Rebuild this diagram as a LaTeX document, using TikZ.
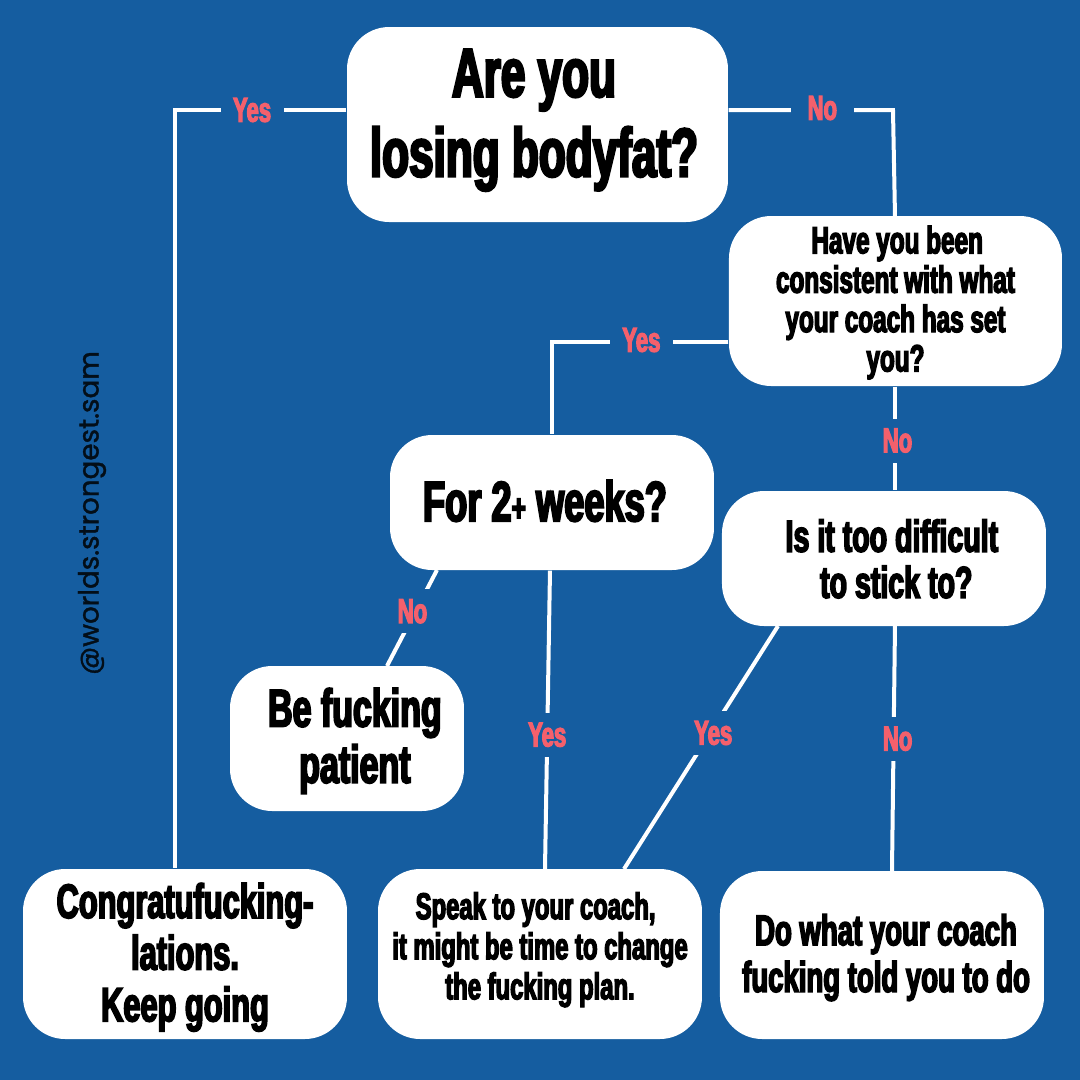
\documentclass[tikz,border=0pt]{standalone}
\usepackage{fontspec}
\usepackage{xcolor}
\usetikzlibrary{calc}
\setmainfont[FakeStretch=0.64,FakeBold=3.5]{Liberation Sans Bold}
\newfontfamily\handlefont[FakeBold=1.3]{Poppins}
\definecolor{bgblue}{HTML}{155DA0}
\definecolor{labelpink}{HTML}{F4606C}
\newcommand{\fs}[2]{\fontsize{#1}{#2}\selectfont}
\newcommand{\lift}[2]{\raisebox{#1}[\height][\depth]{\begin{tabular}{@{}c@{}}#2\end{tabular}}}
\begin{document}
\begin{tikzpicture}[x=0.1mm,y=-0.1mm]
    \tikzset{
        box/.style={fill=white,rounded corners=12pt,inner sep=0pt,align=center,text=black},
        lab/.style={fill=bgblue,text=labelpink,inner sep=0pt,minimum width=6.3mm,minimum height=4.4mm,font=\fs{9.8}{10}},
        link/.style={draw=white,line width=0.4mm}
    }
    \fill [bgblue] (0,0) rectangle (1080,1080);
    \node [box,minimum width=38.1mm,minimum height=19.5mm,font=\fs{19.6}{22.7}] (fat) at (537.5,124.5) {\lift{1.1pt}{\hspace*{-2pt}Are you\\\hspace*{-2pt}losing bodyfat?}};
    \node [box,minimum width=33.3mm,minimum height=17mm,font=\fs{10.8}{11.2}] (consistent) at (895.5,301) {\lift{-1pt}{\hspace*{1pt}Have you been\\consistent with what\\your coach has set\\you?}};
    \node [box,minimum width=32.4mm,minimum height=13.5mm,font=\fs{16.1}{18}] (weeks) at (552,502.5) {\lift{-1.7pt}{\hspace*{-4pt}For 2{\fs{11}{11}+} weeks?}};
    \node [box,minimum width=32.4mm,minimum height=13.5mm,font=\fs{12.7}{13.1}] (difficult) at (884,558.5) {\lift{-2pt}{\hspace*{4.5pt}Is it too difficult\\\hspace*{7pt}to stick to?}};
    \node [box,minimum width=23.4mm,minimum height=14.5mm,font=\fs{15.1}{16}] (patient) at (347,738.5) {\lift{-1.4pt}{\hspace*{4.5pt}Be fucking\\\hspace*{4.5pt}patient}};
    \node [box,minimum width=32.4mm,minimum height=17mm,font=\fs{13.7}{14.7}] (congrat) at (185,954) {\lift{-1.5pt}{Congratufucking-\\lations.\\Keep going}};
    \node [box,minimum width=32.4mm,minimum height=17mm,font=\fs{10.6}{11.4}] (speak) at (540,954) {\lift{0.8pt}{\hspace*{-2.5pt}Speak to your coach,\\it might be time to change\\the fucking plan.}};
    \node [box,minimum width=32.4mm,minimum height=16.8mm,font=\fs{12.25}{13.3}] (dowhat) at (882,955) {\lift{-1.2pt}{\hspace*{2.3pt}Do what your coach\\\hspace*{2.3pt}fucking told you to do}};
    \node [rotate=90,text=black!85!bgblue,font=\handlefont\fs{7.9}{10}] (handle) at (92,513) {@worlds.strongest.sam};
    % Turning points
    \coordinate (yesturn) at (175,110);
    \coordinate (noturn) at (893,110);
    \coordinate (setturn) at (552,342);
    \draw [link] (fat.west |- yesturn) -- node[lab,pos=0.55] {Yes} (yesturn) -- (yesturn |- congrat.north);
    \draw [link] (fat.east |- noturn) -- node[lab,pos=0.57,yshift=0.2mm] {No} (noturn) -- (895,216);
    \draw [link] (consistent.west |- setturn) -- node[lab,pos=0.51,xshift=0.3mm,yshift=0.2mm] {Yes} (setturn) -- (setturn |- weeks.north);
    \draw [link] (consistent.south) -- node[lab,pos=0.52,xshift=0.2mm] {No} (consistent.south |- difficult.north);
    \draw [link] (437,570) -- node[lab,pos=0.43,xshift=-0.3mm] {No} (387,666);
    \draw [link] (weeks.south) ++(-2,0) -- node[lab,pos=0.55] {Yes} (545,869);
    \draw [link] (778,626) -- node[lab,pos=0.44,xshift=0.3mm] {Yes} (624,869);
    \draw [link] (895,626) -- node[lab,pos=0.46,xshift=0.4mm] {No} (892,871);
\end{tikzpicture}
\end{document}
